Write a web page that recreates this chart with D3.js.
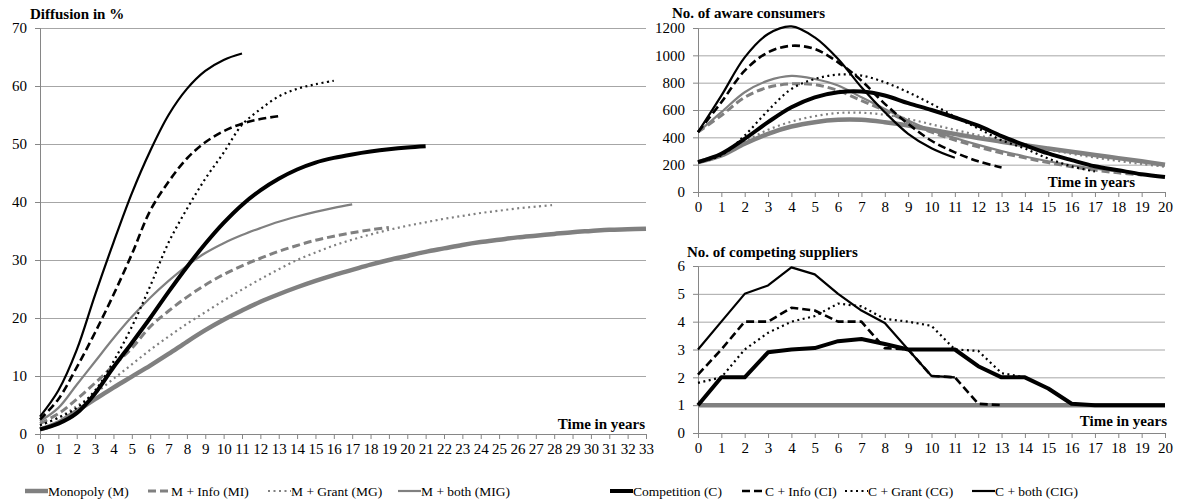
<!DOCTYPE html>
<html>
<head>
<meta charset="utf-8">
<script src="https://cdn.jsdelivr.net/npm/d3@7"></script>
<style>
  body { margin: 0; background: #fff; }
  svg text { font-family: "Liberation Serif", "Times New Roman", serif; }
</style>
</head>
<body>
<div id="chart"></div>
<script>
// series names, in drawing order
var names = ["Monopoly (M)", "M + Info (MI)", "M + Grant (MG)", "M + both (MIG)",
             "Competition (C)", "C + Info (CI)", "C + Grant (CG)", "C + both (CIG)"];

// diffusion in %, one value per year starting at year 0
var diffM   = [0.8,2.0,4.0,6.0,8.0,9.9,11.8,13.8,15.9,17.9,19.7,21.3,22.8,24.1,25.3,26.4,27.4,28.3,29.2,30.0,30.7,31.4,32.0,32.6,33.1,33.5,33.9,34.2,34.5,34.8,35.0,35.2,35.3,35.4];
var diffMI  = [1.8,3.5,6.0,8.8,11.8,14.8,18.5,21.2,23.6,25.7,27.5,29.0,30.3,31.5,32.5,33.4,34.1,34.7,35.2,35.6];
var diffMG  = [1.5,2.8,4.8,7.0,9.5,12.0,14.5,16.8,19.0,21.0,23.0,24.9,26.7,28.4,30.0,31.3,32.5,33.5,34.4,35.2,35.9,36.5,37.1,37.6,38.1,38.5,38.9,39.2,39.5];
var diffMIG = [2.2,4.5,8.5,12.5,16.5,20.2,23.5,26.4,29.0,31.2,32.9,34.3,35.5,36.6,37.5,38.3,39.0,39.6];
var diffC   = [0.8,1.8,3.6,7.0,11.5,15.7,20.0,24.5,28.8,32.8,36.4,39.5,42.0,44.0,45.6,46.8,47.6,48.2,48.7,49.1,49.4,49.6];
var diffCI  = [2.5,6.0,11.5,17.5,24.0,31.0,38.5,43.5,47.5,50.3,52.2,53.5,54.3,54.8];
var diffCG  = [1.5,2.8,4.5,7.5,12.5,18.5,25.5,33.0,38.8,44.0,48.5,53.3,56.0,58.2,59.5,60.3,60.9];
var diffCIG = [3.0,7.5,14.5,24.0,33.0,41.5,48.8,55.0,59.5,62.6,64.5,65.6];

// number of aware consumers
var awareM   = [219,268,353,426,479,511,528,528,511,487,455,425,395,368,342,318,295,270,248,225,200];
var awareMI  = [438,560,693,766,791,786,742,669,596,511,438,380,330,285,250,215,185,160,140,125];
var awareMG  = [219,275,370,455,515,555,578,580,565,535,495,455,415,378,343,310,280,252,228,205,185];
var awareMIG = [438,584,730,815,850,827,779,693,608,523,450,395,345,300,260,225,195,170,150];
var awareC   = [219,280,389,511,620,693,730,735,706,650,600,545,485,409,343,282,233,188,159,130,110];
var awareCI  = [438,657,888,1022,1070,1046,949,815,645,499,375,290,225,180];
var awareCG  = [219,268,414,596,754,827,859,852,803,730,645,551,465,379,318,245,188,150];
var awareCIG = [438,705,985,1156,1212,1131,973,766,584,426,320,250];

// number of competing suppliers
var supM   = [1,1,1,1,1,1,1,1,1,1,1,1,1,1,1,1,1,1,1,1,1];
var supMI  = [1,1,1,1,1,1,1,1,1,1,1,1,1,1,1,1,1,1,1,1];
var supMG  = [1,1,1,1,1,1,1,1,1,1,1,1,1,1,1,1,1,1,1,1,1];
var supMIG = [1,1,1,1,1,1,1,1,1,1,1,1,1,1,1,1,1,1,1];
var supC   = [1,2,2,2.9,3,3.05,3.3,3.38,3.2,3,3,3,2.4,2,2,1.6,1.05,1,1,1,1];
var supCI  = [2.1,3,4,4,4.5,4.4,4,4,3.05,3,2.05,2,1.05,1];
var supCG  = [1.8,2,3,3.6,4,4.2,4.65,4.55,4.1,4,3.85,3,2.95,2.15,2,1.6,1.05,1];
var supCIG = [3,4,5,5.3,5.95,5.7,5,4.4,3.95,3,2.05,2];

// axis ticks
var diffYTicks = [0,10,20,30,40,50,60,70];
var awareYTicks = [0,200,400,600,800,1000,1200];
var supYTicks = [0,1,2,3,4,5,6];

// line styles per series
var grey = "#808080";
var styles = [
  {color: grey,   width: 4.5, dash: null},
  {color: grey,   width: 3,   dash: "8,4"},
  {color: grey,   width: 2.2, dash: "2,3.5"},
  {color: grey,   width: 2.2, dash: null},
  {color: "#000", width: 4,   dash: null},
  {color: "#000", width: 2.6, dash: "8,4"},
  {color: "#000", width: 2.2, dash: "2,3.5"},
  {color: "#000", width: 2.2, dash: null}
];

var serif = "Liberation Serif";

var svg = d3.select("#chart").append("svg")
    .attr("width", 1182)
    .attr("height", 504)
    .attr("font-family", serif);

function toPoints(arr) {
  return arr.map(function(v, i) { return {t: i, v: v}; });
}

// draws one panel: gridlines, axes, labels and series
function panel(opt) {
  var x = d3.scaleLinear().domain([0, opt.xMax]).range([opt.left, opt.right]);
  var y = d3.scaleLinear().domain([0, opt.yMax]).range([opt.bottom, opt.top]);
  var g = svg.append("g");

  // gridlines
  g.append("g")
    .attr("transform", "translate(" + opt.left + ",0)")
    .call(d3.axisLeft(y).tickValues(opt.yTicks.slice(1)).tickSize(-(opt.right - opt.left)).tickFormat(""))
    .call(function(s) {
      s.select(".domain").remove();
      s.selectAll("line").attr("stroke", "#a6a6a6");
    });

  // y axis
  g.append("g")
    .attr("transform", "translate(" + opt.left + ",0)")
    .call(d3.axisLeft(y).tickValues(opt.yTicks).tickSize(5).tickPadding(opt.yPad).tickFormat(d3.format("d")))
    .attr("font-family", serif)
    .call(function(s) {
      s.select(".domain").attr("stroke", "#868686");
      s.selectAll("line").attr("stroke", "#868686");
      s.selectAll("text").attr("font-size", "15px").attr("fill", "#000");
    });

  // x axis
  g.append("g")
    .attr("transform", "translate(0," + opt.bottom + ")")
    .call(d3.axisBottom(x).tickValues(d3.range(0, opt.xMax + 1)).tickSize(5).tickPadding(4).tickFormat(d3.format("d")))
    .attr("font-family", serif)
    .call(function(s) {
      s.select(".domain").attr("stroke", "#868686");
      s.selectAll("line").attr("stroke", "#868686");
      s.selectAll("text").attr("font-size", "15px").attr("fill", "#000");
    });

  var line = d3.line()
    .x(function(d) { return x(d.t); })
    .y(function(d) { return y(d.v); })
    .curve(opt.smooth ? d3.curveCatmullRom.alpha(0.5) : d3.curveLinear);

  opt.series.forEach(function(arr, i) {
    var st = styles[i];
    g.append("path")
      .datum(toPoints(arr))
      .attr("fill", "none")
      .attr("stroke", st.color)
      .attr("stroke-width", st.width)
      .attr("stroke-dasharray", st.dash)
      .attr("stroke-linejoin", "round")
      .attr("d", line);
  });

  // title and x label
  g.append("text")
    .attr("x", opt.titleX).attr("y", opt.titleY)
    .attr("font-size", "15px").attr("font-weight", "bold")
    .text(opt.title);
  g.append("text")
    .attr("x", opt.timeX).attr("y", opt.timeY)
    .attr("text-anchor", "end")
    .attr("font-size", "15px").attr("font-weight", "bold")
    .text("Time in years");
}

panel({
  left: 40, right: 646, top: 28, bottom: 434,
  xMax: 33, yMax: 70, yTicks: diffYTicks, yPad: 8, smooth: true,
  series: [diffM, diffMI, diffMG, diffMIG, diffC, diffCI, diffCG, diffCIG],
  title: "Diffusion in %", titleX: 30, titleY: 19,
  timeX: 645, timeY: 429
});

panel({
  left: 698, right: 1165, top: 28, bottom: 192,
  xMax: 20, yMax: 1200, yTicks: awareYTicks, yPad: 8, smooth: true,
  series: [awareM, awareMI, awareMG, awareMIG, awareC, awareCI, awareCG, awareCIG],
  title: "No. of aware consumers", titleX: 672, titleY: 18,
  timeX: 1135, timeY: 187
});

panel({
  left: 698, right: 1165, top: 266, bottom: 433,
  xMax: 20, yMax: 6, yTicks: supYTicks, yPad: 8, smooth: false,
  series: [supM, supMI, supMG, supMIG, supC, supCI, supCG, supCIG],
  title: "No. of competing suppliers", titleX: 687, titleY: 257,
  timeX: 1167, timeY: 426
});

// legend
var legendX = [25, 148, 268, 398, 610, 742, 845, 972];
var legendY = 491;
var legend = svg.append("g");
names.forEach(function(name, i) {
  var st = styles[i];
  legend.append("line")
    .attr("x1", legendX[i]).attr("x2", legendX[i] + 23)
    .attr("y1", legendY).attr("y2", legendY)
    .attr("stroke", st.color)
    .attr("stroke-width", st.width)
    .attr("stroke-dasharray", st.dash);
  legend.append("text")
    .attr("x", legendX[i] + 23).attr("y", legendY + 5)
    .attr("font-size", "13.5px")
    .text(name);
});
</script>
</body>
</html>
